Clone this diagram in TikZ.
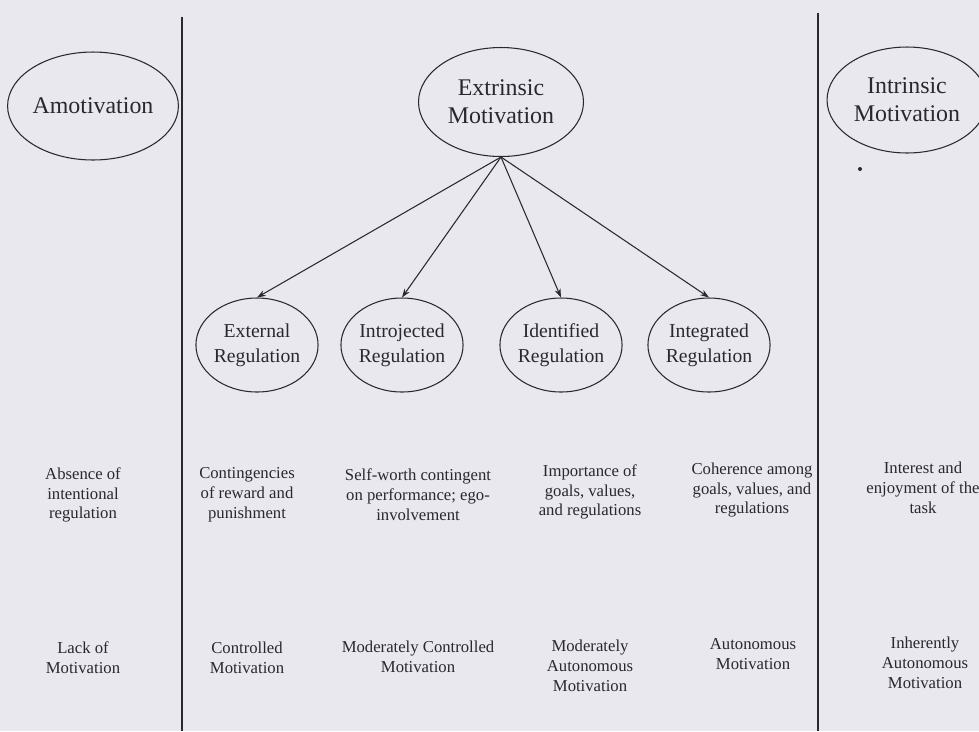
\documentclass[tikz,border=0pt]{standalone}
\usepackage{fontspec}
\setmainfont{Liberation Serif}
\usetikzlibrary{shapes.geometric,arrows.meta}
\definecolor{ink}{RGB}{40,40,46}
\definecolor{paper}{RGB}{232,232,238}
\tikzset{
  oval/.style={ellipse, draw=ink, line width=0.6pt, inner sep=0pt, align=center, text=ink},
  bigoval/.style={oval, font=\fontsize{13.6}{15.9}\selectfont},
  regoval/.style={oval, minimum width=2.34cm, minimum height=1.88cm, font=\fontsize{11.2}{14.2}\selectfont},
  lbl/.style={align=center, inner sep=0pt, text=ink, font=\fontsize{9.5}{11.3}\selectfont},
  divider/.style={draw=ink, line width=1.3pt},
  conn/.style={draw=ink, line width=0.6pt, -{Stealth[length=5pt,width=3.5pt]}}
}
\begin{document}
\begin{tikzpicture}[x=0.02cm, y=-0.02cm]
\fill[paper] (0,0) rectangle (979,731);
\useasboundingbox (0,0) rectangle (979,731);

% dividers
\coordinate (l1) at (182,17);
\coordinate (l2) at (182,731);
\coordinate (r1) at (818,13);
\coordinate (r2) at (818,731);
\draw[divider] (l1) -- (l2);
\draw[divider] (r1) -- (r2);

% top ellipses
\node[bigoval, minimum width=3.28cm, minimum height=2.16cm] (amo) at (93,106) {Amotivation};
\node[bigoval, minimum width=3.30cm, minimum height=2.18cm] (ext) at (501,102) {Extrinsic\\Motivation};
\node[bigoval, minimum width=3.20cm, minimum height=2.12cm] (int) at (907,100) {Intrinsic\\Motivation};
\fill[ink] (860,169) circle (2);

% regulation ellipses
\node[regoval] (rext) at (257,345) {External\\Regulation};
\node[regoval] (rintro) at (402,345) {Introjected\\Regulation};
\node[regoval] (rident) at (561,345) {Identified\\Regulation};
\node[regoval] (rinteg) at (709,345) {Integrated\\Regulation};

\draw[conn] (ext.south) -- (rext.north);
\draw[conn] (ext.south) -- (rintro.north);
\draw[conn] (ext.south) -- (rident.north);
\draw[conn] (ext.south) -- (rinteg.north);

% row 1
\node[lbl] (a1) at (83,495) {Absence of\\intentional\\regulation};
\node[lbl] (b1) at (247,495) {Contingencies\\of reward and\\punishment};
\node[lbl] (c1) at (418,495) {Self-worth contingent\\on performance; ego-\\involvement};
\node[lbl] (d1) at (590,492) {Importance of\\goals, values,\\and regulations};
\node[lbl] (e1) at (752,490) {Coherence among\\goals, values, and\\regulations};
\node[lbl] (f1) at (923,488) {Interest and\\enjoyment of the\\task};

% row 2
\node[lbl] (a2) at (83,658) {Lack of\\Motivation};
\node[lbl] (b2) at (247,658) {Controlled\\Motivation};
\node[lbl] (c2) at (418,657) {Moderately Controlled\\Motivation};
\node[lbl] (d2) at (590,666) {Moderately\\Autonomous\\Motivation};
\node[lbl] (e2) at (753,654) {Autonomous\\Motivation};
\node[lbl] (f2) at (925,663) {Inherently\\Autonomous\\Motivation};
\end{tikzpicture}
\end{document}
